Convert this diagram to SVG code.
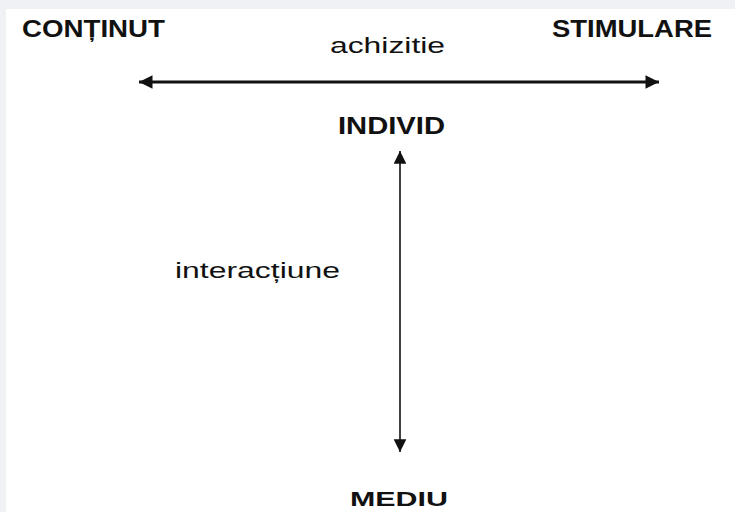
<svg xmlns="http://www.w3.org/2000/svg" width="735" height="512" viewBox="0 0 735 512">
<defs>
<style>
.t{font-family:"Liberation Sans",Arial,sans-serif;font-weight:bold;fill:#111;font-size:23px}
.l{font-family:"Liberation Sans",Arial,sans-serif;fill:#111;font-size:22px}
.c{stroke:#111;fill:none}
</style>
<marker id="ah" viewBox="0 0 10 10" refX="10" refY="5" markerWidth="5" markerHeight="4.5" orient="auto-start-reverse" markerUnits="strokeWidth">
<path d="M0,0 L10,5 L0,10 z" fill="#111"/>
</marker>
<marker id="av" viewBox="0 0 10 10" refX="10" refY="5" markerWidth="8" markerHeight="8" orient="auto-start-reverse" markerUnits="strokeWidth">
<path d="M0,0 L10,5 L0,10 z" fill="#111"/>
</marker>
</defs>
<rect width="735" height="512" fill="#eff1f5"/>
<rect x="6" y="9" width="729" height="503" fill="#ffffff"/>
<g id="continut"><text class="t" x="22" y="37" textLength="143" lengthAdjust="spacingAndGlyphs">CONȚINUT</text></g>
<g id="stimulare"><text class="t" x="552" y="37" textLength="160" lengthAdjust="spacingAndGlyphs">STIMULARE</text></g>
<g id="individ"><text class="t" x="338" y="134" textLength="107" lengthAdjust="spacingAndGlyphs">INDIVID</text></g>
<g id="mediu"><text class="t" x="350" y="506" style="font-size:21px" textLength="98" lengthAdjust="spacingAndGlyphs">MEDIU</text></g>
<g id="connectors">
<line class="c" x1="139" y1="82" x2="659" y2="82" stroke-width="3" marker-start="url(#ah)" marker-end="url(#ah)"/>
<line class="c" x1="400" y1="151" x2="400" y2="452" stroke-width="1.6" marker-start="url(#av)" marker-end="url(#av)"/>
<text class="l" x="330" y="53" textLength="115" lengthAdjust="spacingAndGlyphs">achizitie</text>
<text class="l" x="175" y="278" textLength="165" lengthAdjust="spacingAndGlyphs">interacțiune</text>
</g>
</svg>
